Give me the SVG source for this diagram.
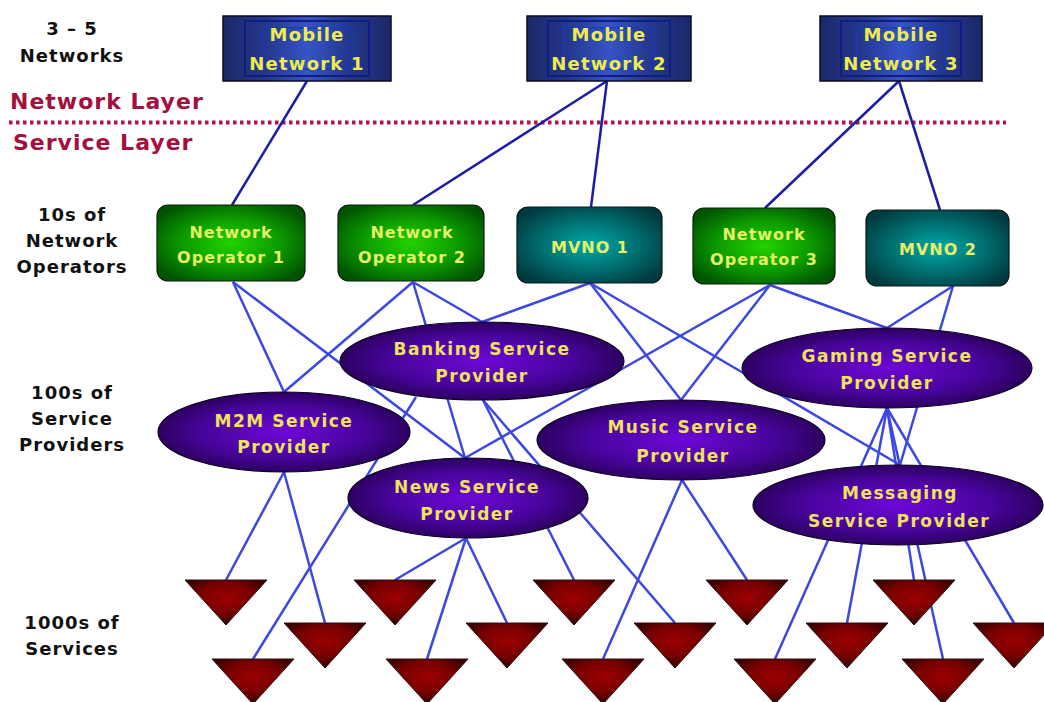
<svg xmlns="http://www.w3.org/2000/svg" xmlns:xlink="http://www.w3.org/1999/xlink" width="1044" height="702" viewBox="0 0 1044 702">
  <defs>
    <linearGradient id="gNet" x1="0" y1="0" x2="1" y2="0">
      <stop offset="0" stop-color="#1b2868"/>
      <stop offset="0.25" stop-color="#25378c"/>
      <stop offset="0.5" stop-color="#3554c8"/>
      <stop offset="0.75" stop-color="#25378c"/>
      <stop offset="1" stop-color="#1b2868"/>
    </linearGradient>
    <radialGradient id="gOp" cx="0.5" cy="0.5" r="0.6">
      <stop offset="0" stop-color="#22d400"/>
      <stop offset="0.55" stop-color="#0c9a00"/>
      <stop offset="1" stop-color="#005400"/>
    </radialGradient>
    <radialGradient id="gMvno" cx="0.5" cy="0.5" r="0.6">
      <stop offset="0" stop-color="#00a9a9"/>
      <stop offset="0.55" stop-color="#006e70"/>
      <stop offset="1" stop-color="#003a3e"/>
    </radialGradient>
    <radialGradient id="gSp" cx="0.5" cy="0.5" r="0.55">
      <stop offset="0" stop-color="#6e08d8"/>
      <stop offset="0.6" stop-color="#47049a"/>
      <stop offset="1" stop-color="#240050"/>
    </radialGradient>
    <radialGradient id="gSvc" cx="0.5" cy="0.4" r="0.55">
      <stop offset="0" stop-color="#9c0000"/>
      <stop offset="0.6" stop-color="#780000"/>
      <stop offset="1" stop-color="#3a0000"/>
    </radialGradient>
    <path id="svc" d="M -41 0 L 41 0 L 0 45 Z" fill="url(#gSvc)" stroke="#2a1010" stroke-width="1"/>
    <style>
      .lbl { font-family: "DejaVu Sans", Verdana, sans-serif; font-weight: bold; font-size: 18px; fill: #111; text-anchor: middle; letter-spacing: 1px; }
      .layer { font-family: "DejaVu Sans", Verdana, sans-serif; font-weight: bold; font-size: 22px; fill: #a3103e; letter-spacing: 1px; }
      .tnet { font-family: "DejaVu Sans", Verdana, sans-serif; font-weight: bold; font-size: 18px; fill: #ecec52; text-anchor: middle; letter-spacing: 1.2px; }
      .top { font-family: "DejaVu Sans", Verdana, sans-serif; font-weight: bold; font-size: 16px; fill: #e6f066; text-anchor: middle; letter-spacing: 1px; }
      .tsp { font-family: "DejaVu Sans", Verdana, sans-serif; font-weight: bold; font-size: 17px; fill: #f0e25a; text-anchor: middle; letter-spacing: 1.5px; }
      .net { fill: url(#gNet); stroke: #0a0a20; stroke-width: 1.5; }
      .netin { fill: none; stroke: #0f1e82; stroke-width: 2; }
      .netin2 { fill: none; stroke: #1a3ab8; stroke-width: 1.5; }
      .op { fill: url(#gOp); stroke: #0a200a; stroke-width: 1.2; }
      .mvno { fill: url(#gMvno); stroke: #0a1a1a; stroke-width: 1.2; }
      .sp { fill: url(#gSp); stroke: #100020; stroke-width: 1.2; }
      .up { stroke: #1c1ca6; stroke-width: 2.5; fill: none; }
      .low { stroke: #3c48e0; stroke-width: 2.5; fill: none; }
    </style>
  </defs>

  <rect width="1044" height="702" fill="#ffffff"/>

  <!-- row captions -->
  <g id="captions">
    <text class="lbl" x="72" y="35">3 – 5</text>
    <text class="lbl" x="72" y="62">Networks</text>
    <text class="lbl" x="72" y="221">10s of</text>
    <text class="lbl" x="72" y="247">Network</text>
    <text class="lbl" x="72" y="273">Operators</text>
    <text class="lbl" x="72" y="399">100s of</text>
    <text class="lbl" x="72" y="425">Service</text>
    <text class="lbl" x="72" y="451">Providers</text>
    <text class="lbl" x="72" y="629">1000s of</text>
    <text class="lbl" x="72" y="655">Services</text>
  </g>

  <!-- layer divider -->
  <g id="layers">
    <text class="layer" x="10" y="109">Network Layer</text>
    <line x1="9" y1="122.5" x2="1006" y2="122.5" stroke="#b0124c" stroke-width="4" stroke-dasharray="3.5 3.5"/>
    <text class="layer" x="13" y="150">Service Layer</text>
  </g>

  <!-- links -->
  <g id="connectors">
    <line class="up" x1="307" y1="81" x2="232" y2="205"/>
    <line class="up" x1="607" y1="81" x2="413" y2="205"/>
    <line class="up" x1="607" y1="81" x2="591" y2="207"/>
    <line class="up" x1="899" y1="81" x2="765" y2="208"/>
    <line class="up" x1="899" y1="81" x2="940" y2="210"/>

    <line class="low" x1="233" y1="282" x2="284" y2="392"/>
    <line class="low" x1="233" y1="282" x2="465" y2="458"/>
    <line class="low" x1="413" y1="282" x2="284" y2="392"/>
    <line class="low" x1="413" y1="282" x2="465" y2="458"/>
    <line class="low" x1="413" y1="282" x2="482" y2="322"/>
    <line class="low" x1="590" y1="283" x2="482" y2="322"/>
    <line class="low" x1="590" y1="283" x2="681" y2="400"/>
    <line class="low" x1="590" y1="283" x2="900" y2="465"/>
    <line class="low" x1="770" y1="285" x2="465" y2="458"/>
    <line class="low" x1="770" y1="285" x2="681" y2="400"/>
    <line class="low" x1="770" y1="285" x2="887" y2="328"/>
    <line class="low" x1="953" y1="286" x2="887" y2="328"/>
    <line class="low" x1="953" y1="286" x2="900" y2="465"/>

    <line class="low" x1="284" y1="472" x2="226" y2="580"/>
    <line class="low" x1="284" y1="472" x2="325" y2="623"/>
    <line class="low" x1="466" y1="538" x2="395" y2="580"/>
    <line class="low" x1="466" y1="538" x2="427" y2="659"/>
    <line class="low" x1="466" y1="538" x2="507" y2="623"/>
    <line class="low" x1="416" y1="397" x2="253" y2="659"/>
    <line class="low" x1="483" y1="400" x2="574" y2="580"/>
    <line class="low" x1="483" y1="400" x2="675" y2="623"/>
    <line class="low" x1="682" y1="480" x2="603" y2="659"/>
    <line class="low" x1="682" y1="480" x2="747" y2="580"/>
    <line class="low" x1="887" y1="408" x2="775" y2="659"/>
    <line class="low" x1="887" y1="408" x2="847" y2="623"/>
    <line class="low" x1="887" y1="408" x2="914" y2="580"/>
    <line class="low" x1="887" y1="408" x2="943" y2="659"/>
    <line class="low" x1="887" y1="408" x2="1014" y2="623"/>
  </g>

  <!-- mobile networks -->
  <g id="mobile-network-1">
    <rect class="net" x="223" y="16" width="168" height="65"/>
    <rect class="netin" x="245" y="21" width="124" height="55"/>
    <rect class="netin2" x="262" y="28" width="90" height="41"/>
    <text class="tnet" x="307" y="41">Mobile</text>
    <text class="tnet" x="307" y="70">Network 1</text>
  </g>
  <g id="mobile-network-2">
    <rect class="net" x="527" y="16" width="164" height="65"/>
    <rect class="netin" x="548" y="21" width="122" height="55"/>
    <rect class="netin2" x="564" y="28" width="90" height="41"/>
    <text class="tnet" x="609" y="41">Mobile</text>
    <text class="tnet" x="609" y="70">Network 2</text>
  </g>
  <g id="mobile-network-3">
    <rect class="net" x="820" y="16" width="162" height="65"/>
    <rect class="netin" x="841" y="21" width="120" height="55"/>
    <rect class="netin2" x="856" y="28" width="90" height="41"/>
    <text class="tnet" x="901" y="41">Mobile</text>
    <text class="tnet" x="901" y="70">Network 3</text>
  </g>

  <!-- operators -->
  <g id="network-operator-1">
    <rect class="op" x="157" y="205" width="148" height="76" rx="11"/>
    <text class="top" x="231" y="238">Network</text>
    <text class="top" x="231" y="263">Operator 1</text>
  </g>
  <g id="network-operator-2">
    <rect class="op" x="338" y="205" width="146" height="76" rx="11"/>
    <text class="top" x="412" y="238">Network</text>
    <text class="top" x="412" y="263">Operator 2</text>
  </g>
  <g id="mvno-1">
    <rect class="mvno" x="517" y="207" width="145" height="76" rx="11"/>
    <text class="top" x="590" y="253">MVNO 1</text>
  </g>
  <g id="network-operator-3">
    <rect class="op" x="693" y="208" width="142" height="76" rx="11"/>
    <text class="top" x="764" y="240">Network</text>
    <text class="top" x="764" y="265">Operator 3</text>
  </g>
  <g id="mvno-2">
    <rect class="mvno" x="866" y="210" width="143" height="76" rx="11"/>
    <text class="top" x="938" y="255">MVNO 2</text>
  </g>

  <!-- service providers -->
  <g id="banking-sp">
    <ellipse class="sp" cx="482" cy="361" rx="142" ry="39"/>
    <text class="tsp" x="482" y="355">Banking Service</text>
    <text class="tsp" x="482" y="382">Provider</text>
  </g>
  <g id="gaming-sp">
    <ellipse class="sp" cx="887" cy="368" rx="145" ry="40"/>
    <text class="tsp" x="887" y="362">Gaming Service</text>
    <text class="tsp" x="887" y="389">Provider</text>
  </g>
  <g id="m2m-sp">
    <ellipse class="sp" cx="284" cy="432" rx="126" ry="40"/>
    <text class="tsp" x="284" y="427">M2M Service</text>
    <text class="tsp" x="284" y="453">Provider</text>
  </g>
  <g id="music-sp">
    <ellipse class="sp" cx="681" cy="440" rx="144" ry="40"/>
    <text class="tsp" x="683" y="433">Music Service</text>
    <text class="tsp" x="683" y="462">Provider</text>
  </g>
  <g id="news-sp">
    <ellipse class="sp" cx="468" cy="498" rx="120" ry="40"/>
    <text class="tsp" x="467" y="493">News Service</text>
    <text class="tsp" x="467" y="520">Provider</text>
  </g>
  <g id="messaging-sp">
    <ellipse class="sp" cx="898" cy="505" rx="145" ry="40"/>
    <text class="tsp" x="900" y="499">Messaging</text>
    <text class="tsp" x="899" y="527">Service Provider</text>
  </g>

  <!-- services -->
  <g id="svc-1"><use xlink:href="#svc" x="226" y="580"/></g>
  <g id="svc-2"><use xlink:href="#svc" x="395" y="580"/></g>
  <g id="svc-3"><use xlink:href="#svc" x="574" y="580"/></g>
  <g id="svc-4"><use xlink:href="#svc" x="747" y="580"/></g>
  <g id="svc-5"><use xlink:href="#svc" x="914" y="580"/></g>
  <g id="svc-6"><use xlink:href="#svc" x="325" y="623"/></g>
  <g id="svc-7"><use xlink:href="#svc" x="507" y="623"/></g>
  <g id="svc-8"><use xlink:href="#svc" x="675" y="623"/></g>
  <g id="svc-9"><use xlink:href="#svc" x="847" y="623"/></g>
  <g id="svc-10"><use xlink:href="#svc" x="1014" y="623"/></g>
  <g id="svc-11"><use xlink:href="#svc" x="253" y="659"/></g>
  <g id="svc-12"><use xlink:href="#svc" x="427" y="659"/></g>
  <g id="svc-13"><use xlink:href="#svc" x="603" y="659"/></g>
  <g id="svc-14"><use xlink:href="#svc" x="775" y="659"/></g>
  <g id="svc-15"><use xlink:href="#svc" x="943" y="659"/></g>
</svg>
